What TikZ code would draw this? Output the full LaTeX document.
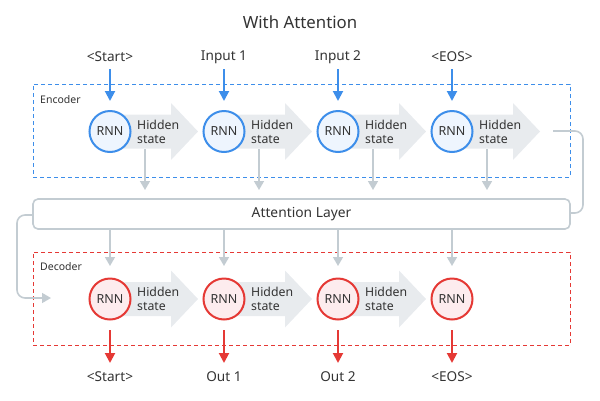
\documentclass[tikz,border=0pt]{standalone}
\usepackage{fontspec}
\setmainfont{Noto Sans}
\usetikzlibrary{arrows.meta}
\definecolor{encblue}{HTML}{3D8EEA}
\definecolor{encfill}{HTML}{EEF5FE}
\definecolor{decred}{HTML}{E53935}
\definecolor{decfill}{HTML}{FDECEE}
\definecolor{hsgray}{HTML}{E8EBEE}
\definecolor{lngray}{HTML}{C3CCD2}
\definecolor{txt}{HTML}{333333}
\tikzset{
  enccirc/.style={circle, draw=encblue, fill=encfill, line width=2pt, minimum size=41pt, inner sep=0pt, font=\fontsize{12.5}{12.5}\selectfont, text=txt},
  deccirc/.style={circle, draw=decred, fill=decfill, line width=2pt, minimum size=41pt, inner sep=0pt, font=\fontsize{12.5}{12.5}\selectfont, text=txt},
  hstext/.style={anchor=west, align=left, font=\fontsize{12.3}{14}\selectfont, text=txt, inner sep=0pt},
  lbl/.style={font=\fontsize{13.6}{13.6}\selectfont, text=txt, inner sep=0pt},
  blk/.style={minimum width=537pt, minimum height=93pt, inner sep=0pt, line width=0.9pt, dash pattern=on 4pt off 3pt},
  grayarr/.style={draw=lngray, line width=1.6pt, -{Triangle[width=10pt,length=9pt]}},
  bluearr/.style={draw=encblue, line width=2pt, -{Triangle[width=10pt,length=10pt]}},
  redarr/.style={draw=decred, line width=2pt, -{Triangle[width=10pt,length=10pt]}},
  grayline/.style={draw=lngray, line width=1.6pt, rounded corners=8pt},
}
\newcommand{\hsarrow}[2]{%
  \fill[hsgray] (#1,#2-17) -- (#1+61,#2-17) -- (#1+61,#2-28.5) -- (#1+88,#2) -- (#1+61,#2+28.5) -- (#1+61,#2+17) -- (#1,#2+17) -- cycle;}
\begin{document}
\begin{tikzpicture}[x=1pt,y=-1pt]
\useasboundingbox (0,0) rectangle (600,400);
\node[font=\fontsize{16.8}{16.8}\selectfont, text=txt] (title) at (300,22) {With Attention};

% boxes
\node[blk, draw=encblue] (enc) at (301.5,130.5) {};
\node[blk, draw=decred] (dec) at (301.5,298.5) {};
\node[anchor=north west, font=\fontsize{10.5}{10.5}\selectfont, text=txt, inner sep=0pt] (enclbl) at (40,95) {Encoder};
\node[anchor=north west, font=\fontsize{10.5}{10.5}\selectfont, text=txt, inner sep=0pt] (declbl) at (40,262) {Decoder};
\node[draw=lngray, line width=1.6pt, rounded corners=5pt, minimum width=537pt, minimum height=30pt, inner sep=0pt, font=\fontsize{13.8}{13.8}\selectfont, text=txt] (att) at (301.5,214) {Attention Layer};

% hidden state arrows
\hsarrow{110}{131.5}
\hsarrow{224}{131.5}
\hsarrow{338}{131.5}
\hsarrow{452}{131.5}
\hsarrow{110}{299}
\hsarrow{224}{299}
\hsarrow{338}{299}

% encoder
\foreach \i/\x/\t in {1/110/{<Start>},2/224/{Input 1},3/338/{Input 2},4/452/{<EOS>}}{
  \node[lbl] (in\i) at (\x,57) {\t};
  \node[enccirc] (e\i) at (\x,131.5) {RNN};
  \coordinate (ins\i) at (\x,69);
  \coordinate (int\i) at (\x,101);
  \draw[bluearr] (ins\i) -- (int\i);
  \coordinate (h\i) at (\x+35,149);
  \coordinate (ha\i) at (\x+35,190);
  \draw[grayarr] (h\i) -- (ha\i);
}
\foreach \i/\x in {1/110,2/224,3/338,4/452}{
  \node[hstext] (hs\i) at (\x+27,131.5) {Hidden\\state};
}

% decoder
\foreach \i/\x/\t in {1/110/{<Start>},2/224/{Out 1},3/338/{Out 2},4/452/{<EOS>}}{
  \node[deccirc] (d\i) at (\x,299) {RNN};
  \node[lbl] (out\i) at (\x,377) {\t};
  \coordinate (da\i) at (\x,266);
  \draw[grayarr] (att.south -| d\i) -- (da\i);
  \coordinate (ds\i) at (\x,330);
  \coordinate (dt\i) at (\x,363);
  \draw[redarr] (ds\i) -- (dt\i);
}
\foreach \i/\x in {1/110,2/224,3/338}{
  \node[hstext] (dhs\i) at (\x+27,299) {Hidden\\state};
}

% loops
\coordinate (lpA) at (553,131);
\coordinate (lpB) at (583,131);
\coordinate (lpC) at (583,213);
\draw[grayline] (lpA) -- (lpB) -- (lpC) -- (att.east |- lpC);
\coordinate (lqA) at (17,215);
\coordinate (lqB) at (17,298);
\coordinate (lqC) at (51,298);
\draw[grayline, -{Triangle[width=10pt,length=9pt]}] (att.west |- lqA) -- (lqA) -- (lqB) -- (lqC);
\end{tikzpicture}
\end{document}
